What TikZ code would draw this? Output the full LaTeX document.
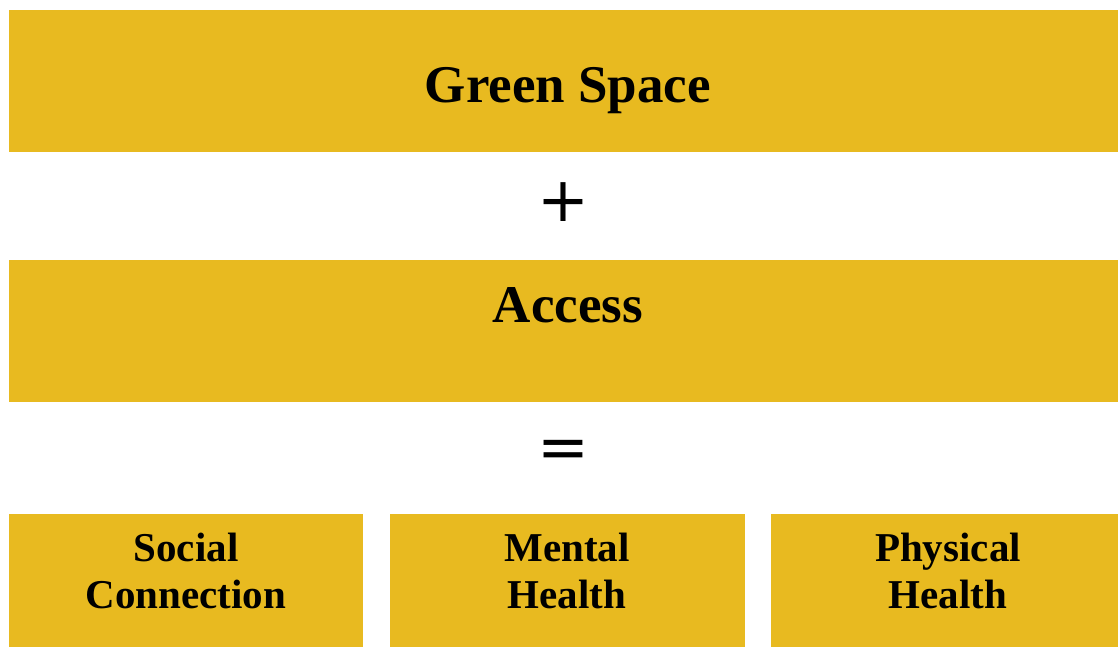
\documentclass[tikz,border=0pt]{standalone}
\usepackage{fontspec}
\setmainfont{Liberation Serif}
\newfontfamily\signfont{DejaVu Sans}

\definecolor{gold}{RGB}{232,186,32}

\begin{document}
\begin{tikzpicture}[x=1pt, y=-1pt,
		bar/.style={fill=gold, draw=none, inner sep=0pt, outer sep=0pt},
		big/.style={anchor=base, font=\fontsize{53}{60}\selectfont\bfseries, inner sep=0pt},
		small/.style={anchor=base, align=center, font=\fontsize{41}{47}\selectfont\bfseries, inner sep=0pt},
		sign/.style={anchor=base, font=\signfont\fontsize{62}{62}\selectfont, inner sep=0pt}
		]
		
		% ==========================================
		% CANVAS
		% ==========================================
		\useasboundingbox (0,0) rectangle (1118,647);
		
		% ==========================================
		% TOP BARS
		% ==========================================
		\node[bar, minimum width=1109, minimum height=142] (greenbar) at (563.5,81) {};
		\node[big] (greenspace) at (568,103) {Green Space};
		
		\node[sign] (plus) at (563,221) {+};
		
		\node[bar, minimum width=1109, minimum height=142] (accessbar) at (563.5,331) {};
		\node[big] (access) at (568,322) {Access};
		
		\node[sign] (equals) at (563,468) {=};
		
		% ==========================================
		% RESULT BOXES
		% ==========================================
		\node[bar, minimum width=354, minimum height=133] (socialbar) at (186,580.5) {};
		\node[bar, minimum width=355, minimum height=133] (mentalbar) at (567.5,580.5) {};
		\node[bar, minimum width=347, minimum height=133] (physicalbar) at (944.5,580.5) {};
		
		% text base is the second line
		\node[small] (social) at (186,608) {Social\\Connection};
		\node[small] (mental) at (567,608) {Mental\\Health};
		\node[small] (physical) at (948,608) {Physical\\Health};
		
	\end{tikzpicture}
\end{document}
